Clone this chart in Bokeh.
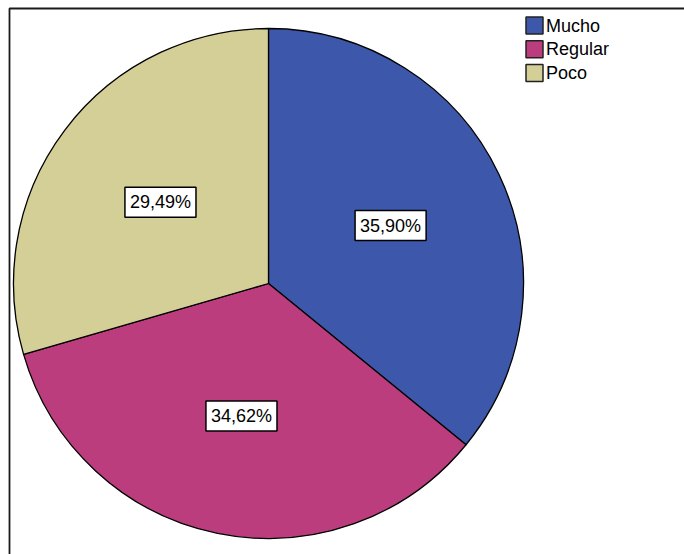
import math
from bokeh.plotting import figure
from bokeh.models import Range1d
from bokeh.core.properties import value
from bokeh.embed import file_html
from bokeh.resources import INLINE

# ---- data ----
categories = ["Mucho", "Regular", "Poco"]
percentages = [35.90, 34.62, 29.49]
colors = ["#3D58AB", "#BC3D7E", "#D4CE97"]

# ---- layout (pixel-like coordinates, y measured from top) ----
W, H = 684, 554
CX, CY_TOP, R = 268, 283, 255
LABEL_FRAC = 0.53
FONT = "Liberation Sans"

def yy(y_top):
    return H - y_top

p = figure(width=W, height=H, output_backend="svg", toolbar_location=None,
           x_range=Range1d(0, W), y_range=Range1d(0, H), min_border=0)
p.axis.visible = False
p.grid.visible = False
p.outline_line_color = None
p.background_fill_color = "white"
p.border_fill_color = "white"

# frame (top and left edges visible)
p.quad(left=[9], right=[W + 20], bottom=[-20], top=[yy(8)],
       fill_color=None, line_color="#1a1a1a", line_width=1.8)

total = sum(percentages)
cum = 0.0
starts, ends, lx, ly, labels = [], [], [], [], []
for v in percentages:
    a0 = math.pi / 2 - 2 * math.pi * cum / total
    cum += v
    a1 = math.pi / 2 - 2 * math.pi * cum / total
    starts.append(a0)
    ends.append(a1)
    mid = (a0 + a1) / 2
    lx.append(CX + LABEL_FRAC * R * math.cos(mid))
    ly.append(yy(CY_TOP) + LABEL_FRAC * R * math.sin(mid))
    labels.append(f"{v:.2f}%".replace(".", ","))

p.wedge(x=CX, y=yy(CY_TOP), radius=R, start_angle=starts, end_angle=ends,
        direction="clock", fill_color=colors, line_color="black", line_width=1.3)

p.text(x=lx, y=ly, text=labels, text_font=value(FONT), text_font_size="18px",
       text_color="black", text_align="center", text_baseline="middle",
       background_fill_color="white", border_line_color="black",
       border_line_width=1.5, padding=5)

# legend
LEG_X, LEG_Y0, LEG_DY, SQ = 534, 25, 23.7, 17
leg_y = [yy(LEG_Y0 + i * LEG_DY) for i in range(len(categories))]
p.rect(x=[LEG_X] * len(categories), y=leg_y, width=SQ, height=SQ,
       fill_color=colors, line_color="#222222", line_width=1.5)
p.text(x=[LEG_X + SQ / 2 + 3] * len(categories), y=leg_y, text=categories,
       text_font=value(FONT), text_font_size="18px", text_color="black",
       text_align="left", text_baseline="middle")

open("out.html", "w").write(file_html(p, INLINE))
